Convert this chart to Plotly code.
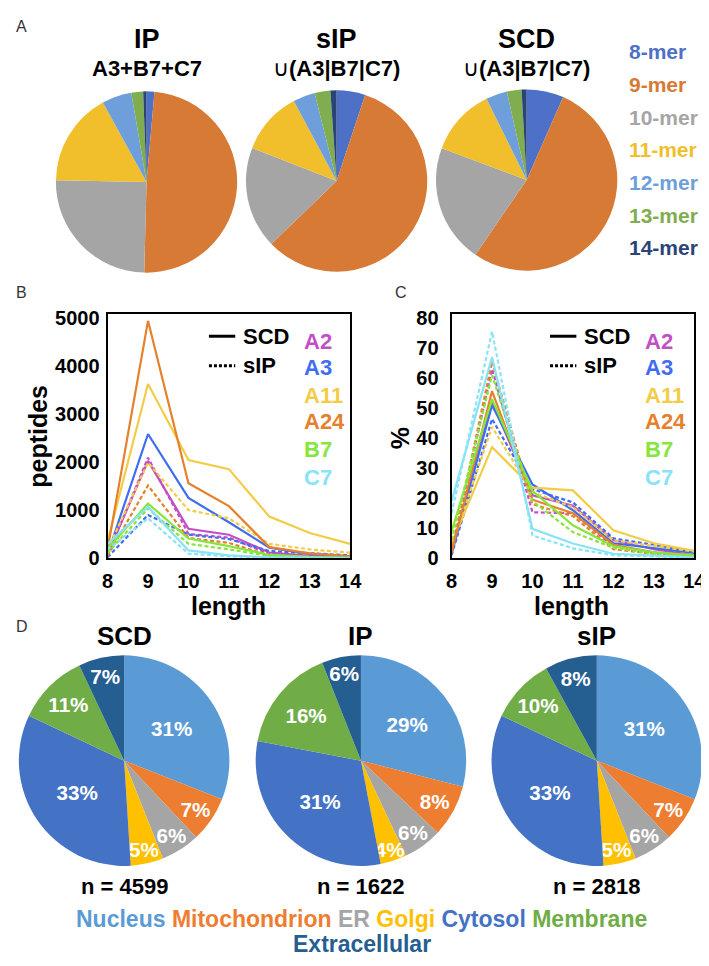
import plotly.graph_objects as go

W, H = 709, 966
FONT = "Liberation Sans"

# ---------------- data ----------------
mer_labels = ["8-mer", "9-mer", "10-mer", "11-mer", "12-mer", "13-mer", "14-mer"]
mer_colors = ["#4E70C6", "#D67A35", "#A5A5A5", "#F0BF2B", "#6E9FDA", "#80AD4F", "#2B4477"]
ip_mer = [1.4, 49.0, 24.9, 16.7, 5.3, 2.1, 0.6]
sip_mer = [5.1, 57.5, 18.1, 11.2, 3.9, 2.8, 1.1]
scd_mer = [6.6, 52.9, 21.1, 12.0, 3.8, 2.6, 0.9]

lengths = [8, 9, 10, 11, 12, 13, 14]
alleles = ["A2", "A3", "A11", "A24", "B7", "C7"]
allele_colors = ["#C24FC6", "#3F6DF0", "#F3CC47", "#E6802C", "#86E63C", "#88E3F6"]

# peptide counts per length (SCD solid, sIP dashed)
scd_counts = [
    [80, 2030, 615, 490, 120, 50, 20],
    [80, 2590, 1257, 750, 220, 90, 40],
    [350, 3634, 2049, 1858, 868, 526, 301],
    [180, 4950, 1564, 1086, 232, 100, 40],
    [200, 1141, 410, 253, 70, 30, 10],
    [300, 1072, 164, 60, 20, 8, 4],
]
sip_counts = [
    [60, 2097, 506, 430, 90, 40, 15],
    [20, 902, 492, 400, 150, 110, 60],
    [180, 1995, 1004, 833, 300, 184, 116],
    [50, 1516, 423, 320, 60, 30, 15],
    [110, 1038, 301, 184, 50, 20, 8],
    [180, 833, 96, 40, 15, 5, 2],
]
# percentage per length
scd_pct = [
    [2, 52, 21, 17.5, 6, 3, 1],
    [1.5, 51, 24.6, 16, 5, 3.5, 1.8],
    [5, 37, 23.5, 22.6, 9.3, 5, 2.5],
    [2, 55.7, 19.5, 15, 4.5, 2, 1],
    [9, 53, 22.4, 11, 4, 2, 1],
    [19, 67, 9.8, 4.9, 1.5, 0.8, 0.3],
]
sip_pct = [
    [2, 63, 15.3, 15, 4, 2, 0.5],
    [1, 46.4, 23, 18.6, 6.6, 4.5, 2],
    [4, 43.7, 22, 17, 6, 4, 2.2],
    [2, 65.5, 18, 14, 3, 1.5, 0.8],
    [6, 61, 19, 8.7, 3.5, 1.5, 0.7],
    [15, 75.5, 7.6, 3.3, 1, 0.5, 0.2],
]

loc_labels = ["Nucleus", "Mitochondrion", "ER", "Golgi", "Cytosol", "Membrane", "Extracellular"]
loc_colors = ["#5B9BD5", "#ED7D31", "#A5A5A5", "#FFC000", "#4472C4", "#70AD47", "#255E91"]
scd_loc = [31, 7, 6, 5, 33, 11, 7]
ip_loc = [29, 8, 6, 4, 31, 16, 6]
sip_loc = [31, 7, 6, 5, 33, 10, 8]
n_values = [4599, 1622, 2818]


# ---------------- helpers ----------------
def pxx(x):
    return x / W


def pyy(y):
    return 1 - y / H


def dom(cx, cy, r):
    return dict(x=[pxx(cx - r), pxx(cx + r)], y=[pyy(cy + r), pyy(cy - r)])


fig = go.Figure()

# ---------------- panel A pies ----------------
a_pies = [(ip_mer, 136, 171), (sip_mer, 331, 170), (scd_mer, 526, 169)]
for vals, cx, cy in a_pies:
    fig.add_trace(go.Pie(
        values=vals, labels=mer_labels, sort=False, direction="clockwise", rotation=0,
        marker=dict(colors=mer_colors, line=dict(width=0)), textinfo="none",
        domain=dom(cx, cy, 93), showlegend=False, hoverinfo="label+percent"))

# ---------------- panel D pies ----------------
d_pies = [(scd_loc, 113, 760), (ip_loc, 356, 760), (sip_loc, 598, 760)]
for vals, cx, cy in d_pies:
    fig.add_trace(go.Pie(
        values=vals, labels=loc_labels, sort=False, direction="clockwise", rotation=0,
        marker=dict(colors=loc_colors, line=dict(width=0)),
        texttemplate="<b>%{value}%</b>", textposition="inside",
        insidetextorientation="horizontal",
        textfont=dict(family=FONT, size=21, color="white"),
        domain=dom(cx, cy, 108), showlegend=False, hoverinfo="label+percent"))

# ---------------- line charts ----------------
dash_style = "4px,2.5px"
for i, a in enumerate(alleles):
    c = allele_colors[i]
    fig.add_trace(go.Scatter(x=lengths, y=sip_counts[i], mode="lines", xaxis="x", yaxis="y",
                             line=dict(color=c, width=2.2, dash=dash_style), showlegend=False,
                             name=a + " sIP"))
    fig.add_trace(go.Scatter(x=lengths, y=scd_counts[i], mode="lines", xaxis="x", yaxis="y",
                             line=dict(color=c, width=2.2), showlegend=False, name=a + " SCD"))
    fig.add_trace(go.Scatter(x=lengths, y=sip_pct[i], mode="lines", xaxis="x2", yaxis="y2",
                             line=dict(color=c, width=2.2, dash=dash_style), showlegend=False,
                             name=a + " sIP"))
    fig.add_trace(go.Scatter(x=lengths, y=scd_pct[i], mode="lines", xaxis="x2", yaxis="y2",
                             line=dict(color=c, width=2.2), showlegend=False, name=a + " SCD"))

tickfont = dict(family=FONT, size=20, color="black", weight="bold")
axis_common = dict(showline=True, mirror=True, linecolor="black", linewidth=2,
                   showgrid=False, zeroline=False, tickfont=tickfont,
                   ticks="outside", tickcolor="rgba(0,0,0,0)")

y_top, y_bot = 305, 554
fig.update_layout(
    xaxis=dict(domain=[pxx(96), pxx(345)], range=[8, 14], tickvals=lengths, ticklen=4,
               anchor="y", **axis_common),
    yaxis=dict(domain=[pyy(y_bot), pyy(y_top)], range=[0, 5100], tickvals=[0, 1000, 2000, 3000, 4000, 5000],
               ticklen=2, anchor="x", **axis_common),
    xaxis2=dict(domain=[pxx(449), pxx(698)], range=[8, 14], tickvals=lengths, ticklen=4,
                anchor="y2", **axis_common),
    yaxis2=dict(domain=[pyy(y_bot), pyy(y_top)], range=[0, 81.5], tickvals=list(range(0, 81, 10)),
                ticklen=7, anchor="x2", **axis_common),
)

# ---------------- annotations ----------------
ann = []


def text(x, y, s, size, color="black", xanchor="center", angle=0):
    ann.append(dict(x=pxx(x), y=pyy(y), xref="paper", yref="paper", text=s, showarrow=False,
                    xanchor=xanchor, yanchor="middle", textangle=angle,
                    font=dict(family=FONT, size=size, color=color)))


# panel letters
for letter, x, y in [("A", 8, 13), ("B", 8, 283), ("C", 397, 283), ("D", 8, 623)]:
    text(x, y, letter, 16, "#333333")

# panel A titles
text(136, 25, "<b>IP</b>", 27)
text(136, 55, "<b>A3+B7+C7</b>", 22)
text(331, 25, "<b>sIP</b>", 27)
text(331, 55, "∪<b>(A3|B7|C7)</b>", 22)
text(526, 25, "<b>SCD</b>", 27)
text(526, 55, "∪<b>(A3|B7|C7)</b>", 22)

# panel A legend
mer_y = [38, 72, 105, 138, 172, 205, 238]
for lab, col, y in zip(mer_labels, mer_colors, mer_y):
    text(629, y, "<b>" + lab + "</b>", 21, col, xanchor="left")

# line chart legends
allele_y = [333, 360, 388, 415, 443, 472]
shapes = []
for lx, ax in [(200, 295), (550, 645)]:
    shapes.append(dict(type="line", xref="paper", yref="paper", x0=pxx(lx), x1=pxx(lx + 27),
                       y0=pyy(328), y1=pyy(328), line=dict(color="black", width=3)))
    shapes.append(dict(type="line", xref="paper", yref="paper", x0=pxx(lx), x1=pxx(lx + 27),
                       y0=pyy(358), y1=pyy(358), line=dict(color="black", width=3, dash="3px,2px")))
    text(lx + 33, 328, "<b>SCD</b>", 22, xanchor="left")
    text(lx + 33, 358, "<b>sIP</b>", 22, xanchor="left")
    for a, col, y in zip(alleles, allele_colors, allele_y):
        text(ax, y, "<b>" + a + "</b>", 22, col, xanchor="left")

# axis titles
text(25, 430, "<b>peptides</b>", 25, angle=-90)
text(396, 432, "<b>%</b>", 25, angle=-90)
text(220, 603, "<b>length</b>", 25)
text(572, 603, "<b>length</b>", 25)

# panel D titles and n
for title, n, cx in zip(["SCD", "IP", "sIP"], n_values, [113, 356, 598]):
    text(cx, 633, "<b>" + title + "</b>", 26)
    text(cx, 888, "<b>n = %d</b>" % n, 22)

# panel D legend
spans = " ".join('<span style="color:%s">%s</span>' % (c, l)
                 for l, c in zip(loc_labels[:-1], loc_colors[:-1]))
text(357, 921, "<b>" + spans + "</b>", 23)
text(357, 947, '<b><span style="color:%s">%s</span></b>' % (loc_colors[-1], loc_labels[-1]), 23)

fig.update_layout(
    width=W, height=H, margin=dict(l=0, r=0, t=0, b=0),
    paper_bgcolor="white", plot_bgcolor="white",
    annotations=ann, shapes=shapes,
    uniformtext=dict(minsize=20, mode="show"),
    font=dict(family=FONT),
)

fig.write_html("out.html")
